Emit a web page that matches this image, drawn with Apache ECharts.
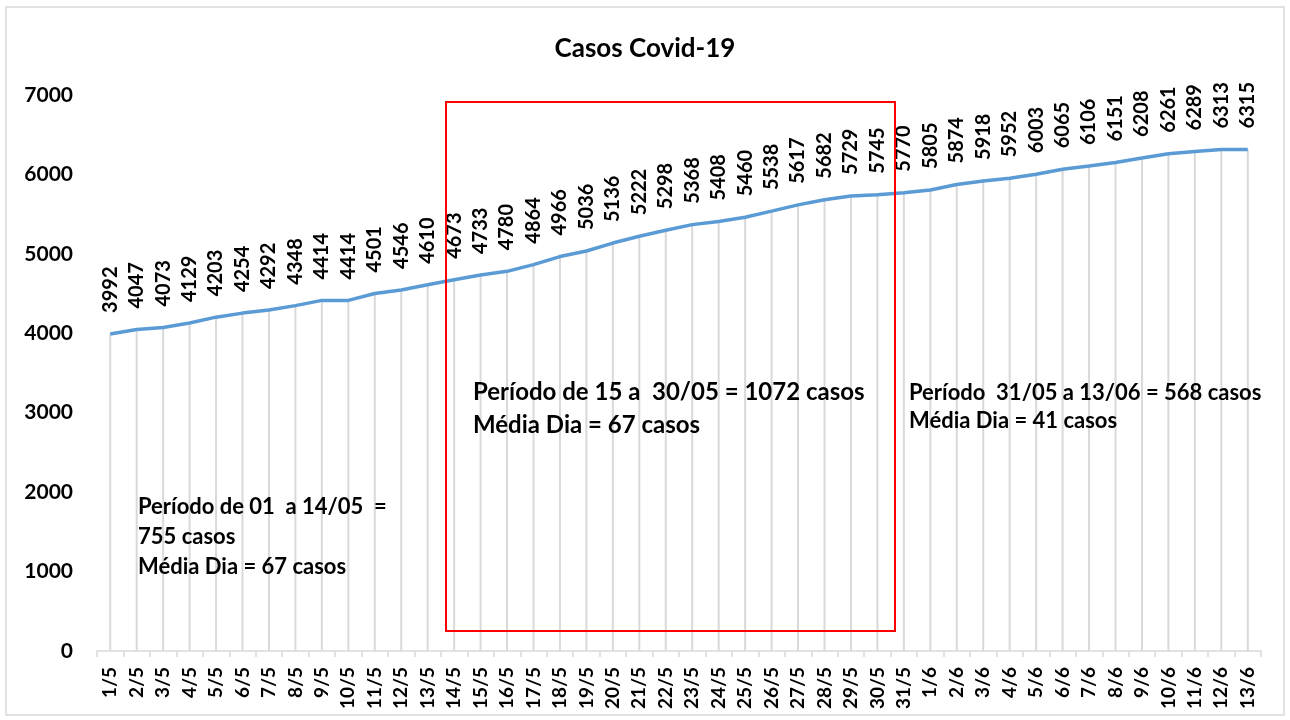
<!DOCTYPE html>
<html lang="pt">
<head>
    <meta charset="UTF-8">
    <title>Casos Covid-19</title>
    <script src="https://cdn.jsdelivr.net/npm/echarts@6/dist/echarts.min.js"></script>
    <style type="text/css">
        body {
            margin: 0;
            padding: 0;
            background-color: #fff;
        }

        #chart {
            width: 1290px;
            height: 720px;
        }
    </style>
</head>
<body>
<div id="chart"></div>

<script>
    // dias (maio e junho)
    var dias = [
        "1/5", "2/5", "3/5", "4/5", "5/5", "6/5", "7/5", "8/5", "9/5", "10/5",
        "11/5", "12/5", "13/5", "14/5", "15/5", "16/5", "17/5", "18/5", "19/5", "20/5",
        "21/5", "22/5", "23/5", "24/5", "25/5", "26/5", "27/5", "28/5", "29/5", "30/5",
        "31/5", "1/6", "2/6", "3/6", "4/6", "5/6", "6/6", "7/6", "8/6", "9/6",
        "10/6", "11/6", "12/6", "13/6"
    ];

    // casos acumulados
    var casos = [
        3992, 4047, 4073, 4129, 4203, 4254, 4292, 4348, 4414, 4414,
        4501, 4546, 4610, 4673, 4733, 4780, 4864, 4966, 5036, 5136,
        5222, 5298, 5368, 5408, 5460, 5538, 5617, 5682, 5729, 5745,
        5770, 5805, 5874, 5918, 5952, 6003, 6065, 6106, 6151, 6208,
        6261, 6289, 6313, 6315
    ];

    var fonte = "Lato, 'Open Sans', sans-serif";

    var chart = echarts.init(document.getElementById("chart"));

    var option = {
        backgroundColor: "#fff",
        animation: false,
        title: {
            text: "Casos Covid-19",
            left: "center",
            top: 31,
            textStyle: {
                fontFamily: fonte,
                fontSize: 26,
                fontWeight: "bold",
                color: "#000"
            }
        },
        grid: {
            left: 97,
            right: 29,
            top: 95,
            bottom: 69
        },
        xAxis: {
            type: "category",
            data: dias,
            boundaryGap: true,
            axisLine: {
                lineStyle: { color: "#d9d9d9", width: 1.5 }
            },
            axisTick: {
                show: true,
                length: 6,
                lineStyle: { color: "#d9d9d9", width: 1.5 }
            },
            axisLabel: {
                interval: 0,
                rotate: 90,
                margin: 16,
                fontFamily: fonte,
                fontSize: 19,
                fontWeight: "bold",
                color: "#000"
            },
            splitLine: { show: false }
        },
        yAxis: {
            type: "value",
            min: 0,
            max: 7000,
            interval: 1000,
            axisLine: { show: false },
            axisTick: { show: false },
            splitLine: { show: false },
            axisLabel: {
                margin: 24,
                formatter: function (v) { return String(v); },
                fontFamily: fonte,
                fontSize: 21,
                fontWeight: "bold",
                color: "#000"
            }
        },
        series: [
            {
                // linhas de queda (verticais) de cada ponto até o eixo, com os rótulos
                name: "queda",
                type: "bar",
                data: casos,
                barWidth: 2,
                silent: true,
                itemStyle: { color: "#d9d9d9" },
                z: 1,
                label: {
                    show: true,
                    position: "top",
                    rotate: 90,
                    align: "left",
                    verticalAlign: "middle",
                    distance: 21,
                    fontFamily: fonte,
                    fontSize: 20,
                    fontWeight: "bold",
                    color: "#000"
                }
            },
            {
                name: "Casos",
                type: "line",
                data: casos,
                symbol: "none",
                lineStyle: { color: "#5b9bd5", width: 3.5 },
                z: 3
            }
        ],
        graphic: [
            {
                // moldura do gráfico
                type: "rect",
                shape: { x: 6, y: 7, width: 1278, height: 708 },
                style: { fill: "none", stroke: "#d9d9d9", lineWidth: 1.5 },
                silent: true
            },
            {
                type: "rect",
                shape: { x: 446, y: 102, width: 449, height: 529 },
                style: { fill: "none", stroke: "#ff0000", lineWidth: 2 },
                z: 10
            },
            {
                type: "text",
                left: 138,
                top: 492,
                style: {
                    text: "Período de 01  a 14/05  =\n755 casos\nMédia Dia = 67 casos",
                    fontFamily: fonte,
                    fontSize: 22,
                    fontWeight: "bold",
                    lineHeight: 30,
                    fill: "#000"
                },
                z: 10
            },
            {
                type: "text",
                left: 473,
                top: 376,
                style: {
                    text: "Período de 15 a  30/05 = 1072 casos\nMédia Dia = 67 casos",
                    fontFamily: fonte,
                    fontSize: 24,
                    fontWeight: "bold",
                    lineHeight: 33,
                    fill: "#000"
                },
                z: 10
            },
            {
                type: "text",
                left: 909,
                top: 379,
                style: {
                    text: "Período  31/05 a 13/06 = 568 casos\nMédia Dia = 41 casos",
                    fontFamily: fonte,
                    fontSize: 22,
                    fontWeight: "bold",
                    lineHeight: 28,
                    fill: "#000"
                },
                z: 10
            }
        ]
    };

    chart.setOption(option);
</script>
</body>
</html>
